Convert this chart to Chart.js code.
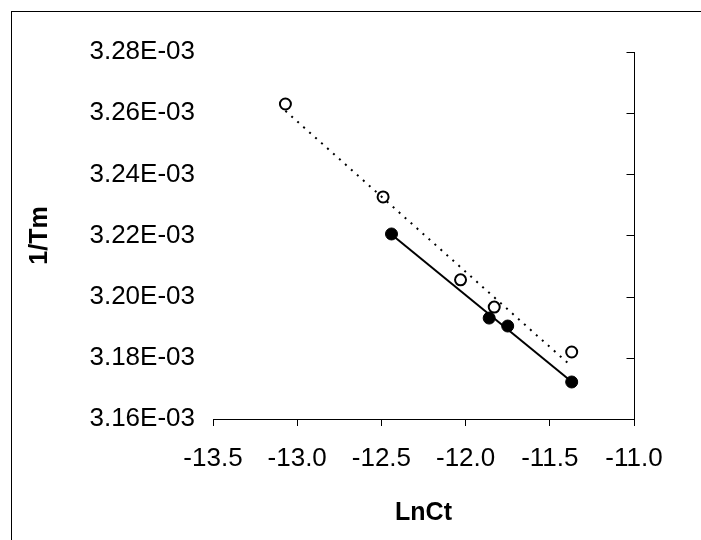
<!DOCTYPE html>
<html>
<head>
  <script src="https://cdn.jsdelivr.net/npm/chart.js"></script>
  <style>
    body { margin: 0; background: #fff; }
  </style>
</head>
<body>
  <canvas id="tmChart" width="701" height="540"></canvas>

  <script>
    // open circles (dotted trendline)
    const xOpen = [-13.07, -12.49, -12.03, -11.83, -11.37];
    const yOpen = [3.2630e-3, 3.2326e-3, 3.2055e-3, 3.1966e-3, 3.1819e-3];

    // filled circles (solid trendline)
    const xFilled = [-12.44, -11.86, -11.75, -11.37];
    const yFilled = [3.2205e-3, 3.1930e-3, 3.1904e-3, 3.1721e-3];

    // axis ranges
    const xMin = -13.5, xMax = -11.0, xStep = 0.5;
    const yMin = 3.16e-3, yMax = 3.28e-3, yStep = 0.02e-3;

    const toPoints = (xs, ys) => xs.map((x, i) => ({ x: x, y: ys[i] }));

    // least squares line, drawn between first and last x like an Excel trendline
    function trend(xs, ys) {
      const n = xs.length;
      const mx = xs.reduce((a, b) => a + b, 0) / n;
      const my = ys.reduce((a, b) => a + b, 0) / n;
      let sxy = 0, sxx = 0;
      xs.forEach((x, i) => {
        sxy += (x - mx) * (ys[i] - my);
        sxx += (x - mx) * (x - mx);
      });
      const slope = sxy / sxx;
      const lo = Math.min(...xs), hi = Math.max(...xs);
      return [
        { x: lo, y: my + slope * (lo - mx) },
        { x: hi, y: my + slope * (hi - mx) },
      ];
    }

    // outer frame + right hand axis line with inward ticks
    const framePlugin = {
      id: 'frame',
      beforeDatasetsDraw(chart) {
        const { ctx, chartArea, scales } = chart;
        const y = scales.y;
        ctx.save();
        ctx.strokeStyle = '#000';
        ctx.lineWidth = 1;
        ctx.strokeRect(11.5, 11.5, 800, 800);
        const x = Math.round(chartArea.right) + 0.5;
        ctx.beginPath();
        ctx.moveTo(x, Math.round(y.getPixelForValue(yMax)));
        ctx.lineTo(x, Math.round(y.getPixelForValue(yMin)) + 1);
        y.ticks.forEach(t => {
          const py = Math.round(y.getPixelForValue(t.value)) + 0.5;
          ctx.moveTo(x - 8, py);
          ctx.lineTo(x, py);
        });
        ctx.stroke();
        ctx.restore();
      }
    };

    Chart.defaults.font.family = '"Liberation Sans", Arial, sans-serif';
    Chart.defaults.color = '#000';

    const ctx = document.getElementById('tmChart').getContext('2d');
    new Chart(ctx, {
      type: 'scatter',
      data: {
        datasets: [
          {
            data: trend(xOpen, yOpen),
            showLine: true,
            borderColor: '#000',
            borderWidth: 2,
            borderDash: [2, 6],
            pointRadius: 0,
            order: 1,
          },
          {
            data: trend(xFilled, yFilled),
            showLine: true,
            borderColor: '#000',
            borderWidth: 2,
            pointRadius: 0,
            order: 2,
          },
          {
            data: toPoints(xOpen, yOpen),
            backgroundColor: '#fff',
            borderColor: '#000',
            borderWidth: 2,
            pointRadius: 5.5,
            order: 3,
          },
          {
            data: toPoints(xFilled, yFilled),
            backgroundColor: '#000',
            borderColor: '#000',
            borderWidth: 1,
            pointRadius: 6,
            order: 4,
          },
        ],
      },
      options: {
        responsive: false,
        animation: false,
        layout: { padding: { left: 0, right: 67, top: 52, bottom: 0 } },
        scales: {
          x: {
            type: 'linear',
            min: xMin,
            max: xMax,
            afterFit: s => { s.height = 121; },
            ticks: {
              stepSize: xStep,
              padding: 17,
              font: { size: 26 },
              callback: v => v.toFixed(1),
            },
            grid: { drawOnChartArea: false, tickLength: 7, color: '#000' },
            border: { display: true, color: '#000', width: 1 },
            title: {
              display: true,
              text: 'LnCt',
              font: { size: 25, weight: 'bold' },
              padding: { top: 0, bottom: 12 },
            },
          },
          y: {
            min: yMin,
            max: yMax,
            afterFit: s => { s.width = 213; },
            ticks: {
              stepSize: yStep,
              padding: 18,
              font: { size: 26 },
              callback: v => (v * 1000).toFixed(2) + 'E-03',
            },
            grid: { display: false, drawTicks: false },
            border: { display: false },
            title: {
              display: true,
              text: '1/Tm',
              font: { size: 25, weight: 'bold' },
              padding: { top: 25, bottom: 0 },
            },
          },
        },
        plugins: {
          legend: { display: false },
          tooltip: { enabled: false },
        },
      },
      plugins: [framePlugin],
    });
  </script>
</body>
</html>
